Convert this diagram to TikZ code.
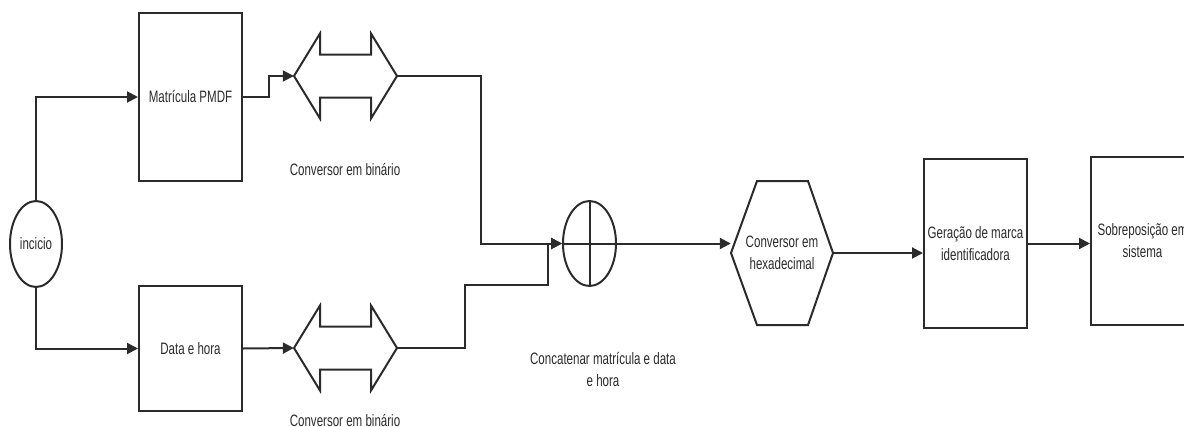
\documentclass[tikz,border=0pt]{standalone}
\usepackage{fontspec}
\setmainfont[FakeStretch=0.7]{Liberation Sans}
\usetikzlibrary{shapes.geometric,arrows.meta}
\definecolor{ink}{HTML}{2B2B2B}
\tikzset{
  line/.style={draw=ink, line width=2pt, line join=miter},
  arr/.style={line, -{Triangle[length=11pt,width=11pt]}},
  box/.style={line, rectangle, minimum width=103pt, inner sep=2pt, align=center, text=ink},
  lbl/.style={text=ink, align=center, inner sep=0pt},
  holder/.style={inner sep=0pt, minimum width=103pt, minimum height=85pt},
  dblarrow/.pic={\draw[line] (-51.5,0) -- (-25.5,-42.5) -- (-25.5,-21.5) -- (25.5,-21.5)
     -- (25.5,-42.5) -- (51.5,0) -- (25.5,42.5) -- (25.5,21.5) -- (-25.5,21.5)
     -- (-25.5,42.5) -- cycle;},
  hexagonpic/.pic={\draw[line] (-51,0) -- (-25,-72) -- (26,-72) -- (51,0) -- (26,72)
     -- (-25,72) -- cycle;}
}
\begin{document}
\begin{tikzpicture}[x=1pt,y=-1pt,font=\fontsize{16.5}{22}\selectfont]
\useasboundingbox (0,0) rectangle (1184,426);

% start node and the two input blocks
\node[line, ellipse, minimum width=52pt, minimum height=86pt, inner sep=0pt, text=ink] (start) at (36,244) {incicio};
\node[box, minimum height=168pt] (mat) at (190.5,97) {Matrícula PMDF};
\node[box, minimum height=125pt] (dh) at (190.5,348.5) {Data e hora};

% binary converters (double arrows)
\node[holder] (binA) at (345.5,76) {};
\pic at (binA) {dblarrow};
\node[holder] (binB) at (345.5,348) {};
\pic at (binB) {dblarrow};
\node[lbl] (labA) at (345,170) {Conversor em binário};
\node[lbl] (labB) at (345,420) {Conversor em binário};

% concatenation operator
\node[line, ellipse, minimum width=53pt, minimum height=85pt, inner sep=0pt] (concat) at (589.5,243.5) {};
\draw[line] (concat.north) -- (concat.south);
\node[lbl] (labC) at (603,369.5) {Concatenar matrícula e data\\e hora};

% hexadecimal converter
\node[inner sep=0pt, minimum width=102pt, minimum height=144pt, align=center, text=ink] (hex) at (782,253) {Conversor em\\hexadecimal};
\pic at (hex) {hexagonpic};

% output blocks
\node[box, minimum height=169pt] (gen) at (975.5,243.5) {Geração de marca\\identificadora};
\node[box, minimum height=168pt] (sob) at (1142.5,241) {Sobreposição em\\sistema};

% connectors
\draw[arr] (start.north) |- (mat.west);
\draw[arr] (start.south) |- (dh.west);
\draw[arr] (mat.east) -- ++(26,0) |- (binA.west);
\draw[arr] (dh.east) -- (binB.west);
\draw[arr] (binA.east) -- ++(84,0) |- (concat.west);
\draw[arr] (binB.east) -- ++(68,0) -- ++(0,-63) -- ++(83,0) |- (concat.west);
\draw[line] (concat.west) -- (concat.east);
\draw[arr] (concat.east) -- (concat.east -| hex.west);
\draw[arr] (hex.east) -- (hex.east -| gen.west);
\draw[arr] (gen.east) -- (gen.east -| sob.west);
\end{tikzpicture}
\end{document}
